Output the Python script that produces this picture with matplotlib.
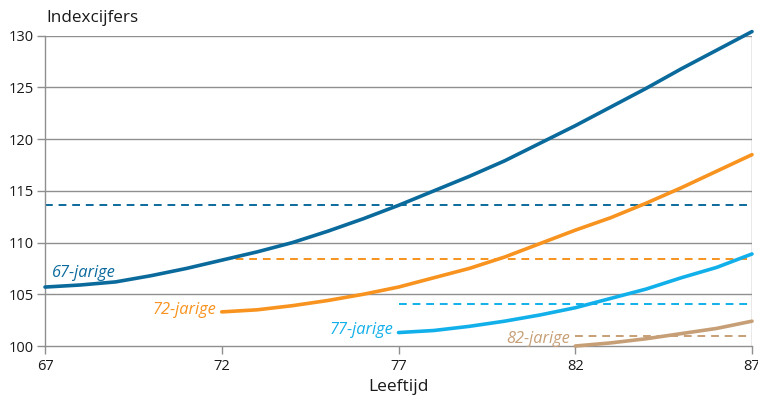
import matplotlib.pyplot as plt
import numpy as np

plt.rcParams['font.family'] = ['Open Sans', 'DejaVu Sans']

# leeftijden en indexcijfers per cohort
ages_67 = list(range(67, 88))
idx_67 = [105.7, 105.9, 106.2, 106.8, 107.5, 108.3, 109.1, 110.0, 111.1, 112.3,
          113.6, 115.0, 116.4, 117.9, 119.6, 121.3, 123.1, 124.9, 126.8, 128.6, 130.4]
ages_72 = list(range(72, 88))
idx_72 = [103.3, 103.5, 103.9, 104.4, 105.0, 105.7, 106.6, 107.5, 108.6, 109.9,
          111.2, 112.4, 113.8, 115.3, 116.9, 118.5]
ages_77 = list(range(77, 88))
idx_77 = [101.3, 101.5, 101.9, 102.4, 103.0, 103.7, 104.6, 105.5, 106.6, 107.6, 108.9]
ages_82 = list(range(82, 88))
idx_82 = [100.0, 100.3, 100.7, 101.2, 101.7, 102.4]

# gestippelde referentieniveaus
ref_levels = [113.6, 108.4, 104.1, 101.0]
ref_start = [67, 72, 77, 82]
labels = ['67-jarige', '72-jarige', '77-jarige', '82-jarige']
colors = ['#0b6a9c', '#f7931e', '#12b0ea', '#c79f76']

fig = plt.figure(figsize=(7.58, 3.99), dpi=100)
ax = fig.add_axes([0.0594, 0.1328, 0.9327, 0.7777])

ax.set_xlim(67, 87)
ax.set_ylim(100, 130)
ax.set_yticks([100, 105, 110, 115, 120, 125, 130])
ax.set_xticks([67, 72, 77, 82, 87])

grid_c = '#8f8f8f'
for y in [105, 110, 115, 120, 125, 130]:
    ax.axhline(y, color=grid_c, lw=1.0, zorder=1)
ax.axvline(87, color=grid_c, lw=1.0, zorder=1)

for s in ['top', 'right']:
    ax.spines[s].set_visible(False)
for s in ['left', 'bottom']:
    ax.spines[s].set_color(grid_c)
    ax.spines[s].set_linewidth(1.0)
ax.tick_params(axis='both', colors=grid_c, labelcolor='#1a1a1a', labelsize=10.5,
               length=6, width=1.0)
ax.tick_params(axis='y', pad=2)
ax.tick_params(axis='x', pad=3)

series = [(ages_67, idx_67), (ages_72, idx_72), (ages_77, idx_77), (ages_82, idx_82)]
for (a, v), lvl, st, c in zip(series, ref_levels, ref_start, colors):
    ax.plot([st, 87], [lvl, lvl], color=c, lw=1.4, ls=(0, (4, 3)), zorder=2, clip_on=False)
    ax.plot(a, v, color=c, lw=2.6, zorder=3, solid_capstyle='round', clip_on=False)

lab_fs = 11.8
ax.text(67.2, 107.1, labels[0], color=colors[0], fontsize=lab_fs, style='italic',
        ha='left', va='center')
ax.text(71.85, 103.5, labels[1], color=colors[1], fontsize=lab_fs, style='italic',
        ha='right', va='center')
ax.text(76.85, 101.5, labels[2], color=colors[2], fontsize=lab_fs, style='italic',
        ha='right', va='center')
ax.text(81.85, 100.7, labels[3], color=colors[3], fontsize=lab_fs, style='italic',
        ha='right', va='center')

fig.text(46 / 758, 1 - 18 / 399, 'Indexcijfers', fontsize=12.3, color='#1a1a1a',
         ha='left', va='center')
ax.set_xlabel('Leeftijd', fontsize=12.5, color='#1a1a1a', labelpad=4)

fig.savefig('out.png', dpi=100)
